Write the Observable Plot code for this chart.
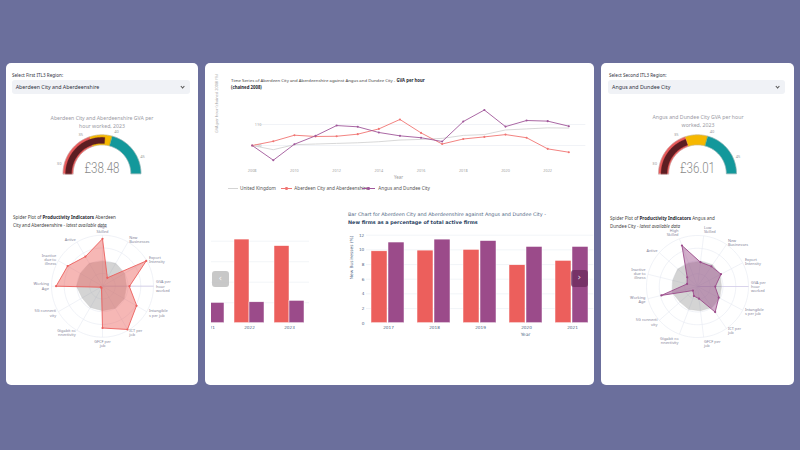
<!DOCTYPE html>
<html>
<head>
<meta charset="utf-8">
<script src="https://cdn.jsdelivr.net/npm/d3@7"></script>
<script src="https://cdn.jsdelivr.net/npm/@observablehq/plot@0.6"></script>
<style>
  html, body { margin: 0; padding: 0; }
  body { width: 800px; height: 450px; background: #6b6f9c; position: relative; overflow: hidden;
         font-family: "Noto Sans", "Open Sans", sans-serif; color: #31333f; }
  .card { position: absolute; background: #fff; border-radius: 5px; overflow: hidden; }
  .abs { position: absolute; white-space: nowrap; }
  .select { position: absolute; background: #f0f2f6; border-radius: 3px; font-size: 5.3px; line-height: 14px;
            padding-left: 4px; box-sizing: border-box; color: #31333f; }
  .chev { position: absolute; right: 6px; top: 4.5px; width: 2.2px; height: 2.2px;
          border-right: 0.8px solid #555; border-bottom: 0.8px solid #555; transform: rotate(45deg); }
  .lbl { font-size: 4.6px; color: #31333f; }
  .gtitle { font-size: 5.2px; line-height: 8px; color: #9a9aa4; text-align: center; transform: translateX(-50%); }
  .stitle { font-size: 4.5px; line-height: 8px; color: #444; }
  .stitle b { color: #262730; }
  .ctitle { font-size: 4.3px; line-height: 7px; color: #444; }
  .ctitle b { color: #262730; }
  .btitle { font-family: "DejaVu Sans", sans-serif; font-size: 4.9px; line-height: 7.5px; color: #506784; }
  .btitle b { color: #2a3f5f; }
  .leg { font-size: 4.7px; color: #555; line-height: 6px; }
  .swatch { position: absolute; height: 0; border-top: 1px solid; top: 3px; }
  .swatch i { position: absolute; left: 50%; top: -1.9px; width: 2.6px; height: 2.6px; margin-left: -1.3px; border-radius: 50%; }
  .arrow { position: absolute; border-radius: 3px; font-family: "DejaVu Sans", sans-serif; font-size: 9px;
           text-align: center; color: rgba(255,255,255,0.85); }
  .clip { position: absolute; overflow: hidden; }
  .clip svg { position: absolute; }
</style>
</head>
<body>
<div class="card" id="left" style="left:6px;top:63px;width:192px;height:322px"></div>
<div class="card" id="center" style="left:205px;top:63px;width:389px;height:322px"></div>
<div class="card" id="right" style="left:601px;top:63px;width:193px;height:322px"></div>

<script>
// ---------- data ----------
const regionA = "Aberdeen City and Aberdeenshire";
const regionB = "Angus and Dundee City";
const ukName = "United Kingdom";

// GVA per hour worked, chained to 2008 = 100
const years = [2008, 2009, 2010, 2011, 2012, 2013, 2014, 2015, 2016, 2017, 2018, 2019, 2020, 2021, 2022, 2023];
const ukGva = [100, 98.0, 100.4, 100.7, 101.0, 101.3, 101.8, 102.6, 102.9, 103.4, 104.8, 105.2, 107.4, 107.9, 108.4, 108.3];
const aberdeenGva = [100, 102.0, 104.9, 104.3, 104.4, 105.4, 107.9, 112.4, 106.0, 100.7, 103.1, 104.1, 105.2, 103.7, 98.4, 96.8];
const angusGva = [100, 93.0, 100.6, 104.6, 109.5, 108.9, 106.2, 104.6, 103.7, 101.9, 111.4, 116.9, 109.0, 111.9, 111.6, 109.2];
const gvaTicksX = [2008, 2010, 2012, 2014, 2016, 2018, 2020, 2022];
const gvaTicksY = [100, 110];

// New firms as a percentage of total active firms
const barYears = [2017, 2018, 2019, 2020, 2021];
const aberdeenNewFirms = [9.8, 9.9, 10.0, 7.9, 8.5];
const angusNewFirms = [11.0, 11.4, 11.2, 10.4, 10.4];
const barTicksY = [0, 2, 4, 6, 8, 10, 12];

// previous carousel slide (only its last years show)
const prevYears = [2021, 2022, 2023];
const aberdeenPrev = [null, 40.8, 37.6];
const angusPrev = [9.9, 10.2, 10.9];
const prevGrid = [10, 20, 30, 40];

// GVA per hour worked, 2023 (£)
const gaugeValueA = 38.48;
const gaugeValueB = 36.01;
const gaugeRange = [28.6, 47.4];
const gaugeBands = [28.6, 36.1, 39.6, 47.4];
const gaugeTicks = [30, 35, 40, 45];

// spider plots: indicator scores, 100 = outer ring
const spiderAxesA = ["GVA per hour worked", "Export Intensity", "New Businesses", "High Skilled", "Active",
  "Inactive due to illness", "Working Age", "5G connectivity", "Gigabit connectivity", "GFCF per job",
  "ICT per job", "Intangibles per job"];
const spiderLabelsA = ["GVA per\nhour\nworked", "Export\nIntensity", "New\nBusinesses", "High\nSkilled", "Active",
  "Inactive\ndue to\nillness", "Working\nAge", "5G connecti\nvity", "Gigabit co\nnnectivity", "GFCF per\njob",
  "ICT per\njob", "Intangible\ns per job"];
const aberdeenSpider = [53, 99, 19, 93, 67, 79, 91, 4, 4, 82, 98, 77];
const ukSpiderA = [47, 50, 52, 49, 52, 50, 51, 46, 48, 48, 50, 49];

const spiderAxesB = ["GVA per hour worked", "Export Intensity", "New Businesses", "Low Skilled", "High Skilled",
  "Active", "Inactive due to illness", "Working Age", "5G connectivity", "Gigabit connectivity", "GFCF per job",
  "ICT per job", "Intangibles per job"];
const spiderLabelsB = ["GVA per\nhour\nworked", "Export\nIntensity", "New\nBusinesses", "Low\nSkilled", "High\nSkilled",
  "Active", "Inactive\ndue to\nillness", "Working\nAge", "5G connecti\nvity", "Gigabit co\nnnectivity",
  "GFCF per\njob", "ICT per\njob", "Intangible\ns per job"];
const angusSpider = [35, 52, 48, 48, 86, 27, 21, 73, 12, 20, 24, 61, 47];
const ukSpiderB = [47, 50, 52, 50, 49, 52, 50, 51, 46, 48, 48, 50, 49];

// ---------- colours ----------
const red = "#ec5f5c", purple = "#9b4b8a", ukGrey = "#d4d4d4";
const bandColors = ["#e95a5a", "#f6b800", "#13989b"];
const barDark = "#5c1d22";

// ---------- helpers ----------
const svgStyle = (font = "'Noto Sans', sans-serif", size = "4.5px") =>
  ({background: "transparent", maxWidth: "none", overflow: "visible", fontFamily: font, fontSize: size});

function place(parentId, node, left, top, cls) {
  const wrap = document.createElement("div");
  wrap.className = cls || "abs";
  wrap.style.left = left + "px";
  wrap.style.top = top + "px";
  wrap.append(node);
  document.getElementById(parentId).append(wrap);
  return wrap;
}
function html(parentId, left, top, cls, inner, extra = "") {
  const d = document.createElement("div");
  d.className = cls;
  d.style.cssText = `left:${left}px;top:${top}px;` + extra;
  d.innerHTML = inner;
  document.getElementById(parentId).append(d);
  return d;
}

// semicircular gauge
function gaugePlot(value, cx) {
  const W = 192, H = 50, cy = 45.3, k = 39;
  const angle = d3.scaleLinear(gaugeRange, [Math.PI, 0]);
  const band = (v0, v1, r0, r1) => {
    const vs = d3.range(61).map(j => v0 + (v1 - v0) * j / 60);
    const outer = vs.map(v => ({x: r1 * Math.cos(angle(v)), y: r1 * Math.sin(angle(v))}));
    const inner = vs.slice().reverse().map(v => ({x: r0 * Math.cos(angle(v)), y: r0 * Math.sin(angle(v))}));
    return outer.concat(inner);
  };
  const stepMarks = bandColors.map((c, i) =>
    Plot.line(band(gaugeBands[i], gaugeBands[i + 1], 0.74, 1), {x: "x", y: "y", curve: "linear-closed", fill: c, stroke: c, strokeWidth: 0.3}));
  const svg = Plot.plot({
    width: W, height: H, margin: 0,
    x: {domain: [-cx / k, (W - cx) / k], axis: null},
    y: {domain: [-(H - cy) / k, cy / k], axis: null},
    style: svgStyle(),
    marks: [
      ...stepMarks,
      Plot.line(band(gaugeRange[0], gaugeRange[1], 0.74, 1), {x: "x", y: "y", curve: "linear-closed", fill: "none", stroke: "#b8b8b8", strokeWidth: 0.5}),
      Plot.line(band(gaugeRange[0], value, 0.78, 0.935), {x: "x", y: "y", curve: "linear-closed", fill: barDark, stroke: barDark, strokeWidth: 0.3}),
      Plot.text(gaugeTicks, {x: d => 1.13 * Math.cos(angle(d)), y: d => 1.13 * Math.sin(angle(d)), text: d => String(d), fontSize: 4, fill: "#9a9a9a"}),
      Plot.text([value], {x: () => 0, y: () => 0, text: d => "£" + d.toFixed(2), fontSize: 15.5, fontFamily: "Roboto, sans-serif",
        fontWeight: 300, lineAnchor: "bottom", dy: -1, fill: "#8a8a8a"})
    ]
  });
  // the number is set in a tall, narrow face
  d3.select(svg).selectAll("text").filter(function () { return this.textContent.startsWith("£"); })
    .attr("textLength", 35).attr("lengthAdjust", "spacingAndGlyphs");
  return svg;
}

// radar of productivity indicators against the UK reference
function spiderPlot(axes, labels, values, reference, color, cx, cy) {
  const W = 192, H = 125, k = 0.51;
  const n = axes.length;
  const theta = i => 2 * Math.PI * i / n;
  const polygon = vals => vals.map((v, i) => ({axis: axes[i], value: v, x: v * Math.cos(theta(i)), y: v * Math.sin(theta(i))}));
  const region = polygon(values);
  const ref = polygon(reference);
  const rings = [25, 50, 75, 100].flatMap(r => d3.range(0, 361, 4).map(a =>
    ({r, x: r * Math.cos(a * Math.PI / 180), y: r * Math.sin(a * Math.PI / 180)})));
  const spokes = axes.map((a, i) => ({axis: a, x: 100 * Math.cos(theta(i)), y: 100 * Math.sin(theta(i))}));
  const labelRows = labels.map((t, i) => {
    const c = Math.cos(theta(i)), s = Math.sin(theta(i));
    return {text: t, x: 105 * c, y: 105 * s,
      h: c > 0.05 ? "start" : c < -0.05 ? "end" : "middle",
      v: s > 0.9 ? "bottom" : s < -0.9 ? "top" : "middle"};
  });
  const labelMarks = [];
  for (const h of ["start", "middle", "end"]) for (const v of ["top", "middle", "bottom"]) {
    const rows = labelRows.filter(d => d.h === h && d.v === v);
    if (rows.length) labelMarks.push(Plot.text(rows, {x: "x", y: "y", text: "text", textAnchor: h, lineAnchor: v,
      fontSize: 3.9, lineHeight: 1.1, fill: "#85859a"}));
  }
  return Plot.plot({
    width: W, height: H, margin: 0,
    x: {domain: [-cx / k, (W - cx) / k], axis: null},
    y: {domain: [-(H - cy) / k, cy / k], axis: null},
    style: svgStyle(),
    marks: [
      Plot.line(rings, {x: "x", y: "y", z: "r", stroke: "#e6e9f1", strokeWidth: 0.6}),
      Plot.link(spokes, {x1: () => 0, y1: () => 0, x2: "x", y2: "y", stroke: "#e6e9f1", strokeWidth: 0.6}),
      Plot.link(spokes.slice(0, 1), {x1: () => 0, y1: () => 0, x2: "x", y2: "y", stroke: "#d3cbe9", strokeWidth: 0.8}),
      Plot.line(ref, {x: "x", y: "y", curve: "linear-closed", fill: "#8d8d8d", fillOpacity: 0.38, stroke: "#c4c4c4", strokeWidth: 0.4}),
      Plot.line(region, {x: "x", y: "y", curve: "linear-closed", fill: color, fillOpacity: 0.45, stroke: color, strokeWidth: 0.9}),
      Plot.dot(region, {x: "x", y: "y", r: 1.1, fill: color}),
      ...labelMarks
    ]
  });
}

// ---------- left card ----------
html("left", 6, 9, "abs lbl", "Select First ITL3 Region:");
html("left", 5.7, 17, "select", regionA + '<span class="chev"></span>', "width:178px;height:14px");
html("left", 96, 51, "abs gtitle", "Aberdeen City and Aberdeenshire GVA per<br>hour worked, 2023");
place("left", gaugePlot(gaugeValueA, 95.5), 0, 65);
html("left", 7, 150, "abs stitle", "Spider Plot of <b>Productivity Indicators</b> Aberdeen<br>City and Aberdeenshire - <i>latest available data</i>");
place("left", spiderPlot(spiderAxesA, spiderLabelsA, aberdeenSpider, ukSpiderA, red, 96, 57.7), 0, 165);

// ---------- right card ----------
html("right", 8, 9, "abs lbl", "Select Second ITL3 Region:");
html("right", 7, 17, "select", regionB + '<span class="chev"></span>', "width:177px;height:14px");
html("right", 97, 50, "abs gtitle", "Angus and Dundee City GVA per hour<br>worked, 2023");
place("right", gaugePlot(gaugeValueB, 96), 0, 65);
html("right", 9, 150.5, "abs stitle", "Spider Plot of <b>Productivity Indicators</b> Angus and<br>Dundee City - <i>latest available data</i>");
place("right", spiderPlot(spiderAxesB, spiderLabelsB, angusSpider, ukSpiderB, purple, 96, 58), 0, 165);

// ---------- centre card: time series ----------
html("center", 26, 14, "abs ctitle",
  `Time Series of ${regionA} against ${regionB} - <b>GVA per hour</b><br><b>(chained 2008)</b>`);

const gvaRows = years.flatMap((yr, i) => [
  {year: yr, series: ukName, value: ukGva[i]},
  {year: yr, series: regionA, value: aberdeenGva[i]},
  {year: yr, series: regionB, value: angusGva[i]}
]);
const lineChart = Plot.plot({
  width: 389, height: 92,
  marginLeft: 46.7, marginRight: 25.7, marginTop: 5.9, marginBottom: 23.1,
  x: {domain: [2008, 2023]},
  y: {domain: [91, 121], axis: null},
  color: {domain: [ukName, regionA, regionB], range: [ukGrey, "#f07573", "#a0579a"]},
  style: svgStyle(),
  marks: [
    Plot.ruleY(gvaTicksY, {stroke: "#eef0f5", strokeWidth: 0.8, insetLeft: 6, insetRight: -17}),
    Plot.axisX({ticks: gvaTicksX, tickSize: 0, tickPadding: 4.5, tickFormat: d => String(d), fontSize: 3.8, color: "#a3a3a3", label: null}),
    Plot.text(gvaTicksY, {y: d => d, text: d => String(d), frameAnchor: "left", dx: 2.6, fontSize: 3.8, fill: "#a3a3a3"}),
    Plot.text(["Year"], {frameAnchor: "bottom", text: d => d, dy: 15, dx: -12, fontSize: 4.4, fill: "#9a9a9a"}),
    Plot.text(["GVA per hour (chained 2008) (%)"], {frameAnchor: "left", text: d => d, rotate: -90, dx: -35.7, fontSize: 3.9, fill: "#a3a3a3"}),
    Plot.line(gvaRows, {x: "year", y: "value", z: "series", stroke: "series", strokeWidth: 0.9}),
    Plot.dot(gvaRows.filter(d => d.series !== ukName), {x: "year", y: "value", fill: "series", r: 1.05})
  ]
});
place("center", lineChart, 0, 32);

// legend
const legendItems = [
  {name: ukName, color: ukGrey, dot: false, x: 22.7, w: 10.6, tx: 35},
  {name: regionA, color: "#f07573", dot: true, x: 76, w: 11.3, tx: 89.3},
  {name: regionB, color: "#a0579a", dot: true, x: 156.7, w: 13.3, tx: 173.3}
];
for (const it of legendItems) {
  html("center", it.x, 122, "abs swatch", it.dot ? `<i style="background:${it.color}"></i>` : "",
    `width:${it.w}px;border-color:${it.color};top:125px`);
  html("center", it.tx, 122, "abs leg", it.name);
}

// ---------- centre card: bar charts ----------
html("center", 143, 148, "abs btitle",
  `Bar Chart for ${regionA} against ${regionB} -<br><b>New firms as a percentage of total active firms</b>`);

// previous slide, clipped by the carousel
const prevRows = prevYears.flatMap((yr, i) => [
  {year: yr, region: regionA, value: aberdeenPrev[i]},
  {year: yr, region: regionB, value: angusPrev[i]}
]).filter(d => d.value != null);
const prevBars = Plot.plot({
  width: 120, height: 115, marginLeft: 0, marginRight: 0, marginTop: 8.6, marginBottom: 20.3,
  fx: {domain: prevYears, paddingInner: 0.2, paddingOuter: 0.1, axis: "bottom", tickSize: 0, tickPadding: 2.5,
       tickFormat: d => String(d), label: null},
  x: {domain: [regionA, regionB], axis: null, padding: 0.03},
  y: {domain: [0, 42], axis: null},
  color: {domain: [regionA, regionB], range: [red, purple]},
  style: {...svgStyle("'DejaVu Sans', sans-serif", "4.2px"), color: "#506784"},
  marks: [
    Plot.barY(prevRows, {fx: "year", x: "region", y: "value", fill: "region", stroke: "white", strokeWidth: 0.5})
  ]
});
const prevGridPlot = Plot.plot({
  width: 120, height: 115, marginLeft: 0, marginRight: 0, marginTop: 8.6, marginBottom: 20.3,
  x: {domain: [0, 1], axis: null}, y: {domain: [0, 42], axis: null},
  style: svgStyle(),
  marks: [Plot.gridY(prevGrid, {stroke: "#edf0f5", strokeOpacity: 1, strokeWidth: 0.7})]
});
const clip = place("center", prevGridPlot, 6, 165, "clip");
clip.style.width = "114px"; clip.style.height = "115px";
prevGridPlot.style.left = "-21.7px"; prevGridPlot.style.top = "0px";
clip.append(prevBars);
prevBars.style.left = "-21.7px"; prevBars.style.top = "0px";

// current slide
const firmRows = barYears.flatMap((yr, i) => [
  {year: yr, region: regionA, value: aberdeenNewFirms[i]},
  {year: yr, region: regionB, value: angusNewFirms[i]}
]);
const barFrame = {width: 254, height: 115, marginLeft: 26, marginRight: 0.6, marginTop: 6.7, marginBottom: 20.3};
const barAxes = Plot.plot({
  ...barFrame,
  x: {domain: [0, 1], axis: null}, y: {domain: [0, 12], axis: null},
  style: svgStyle("'DejaVu Sans', sans-serif", "4.2px"),
  marks: [
    Plot.gridY(barTicksY.filter(d => d > 0), {stroke: "#edf0f5", strokeOpacity: 1, strokeWidth: 0.7}),
    Plot.axisY({ticks: barTicksY, tickSize: 0, tickPadding: 2.2, fontSize: 4.2, color: "#506784", label: null}),
    Plot.text(["New Businesses (%)"], {frameAnchor: "left", text: d => d, rotate: -90, dx: -15.3, fontSize: 4.3, fill: "#506784"}),
    Plot.text(["Year"], {frameAnchor: "bottom", text: d => d, dy: 12.3, dx: 45.3, fontSize: 4.6, fill: "#506784"})
  ]
});
const barChart = Plot.plot({
  ...barFrame,
  fx: {domain: barYears, paddingInner: 0.22, paddingOuter: 0.0815, axis: "bottom", tickSize: 0, tickPadding: 2.5,
       tickFormat: d => String(d), label: null},
  x: {domain: [regionA, regionB], axis: null, padding: 0.03},
  y: {domain: [0, 12], axis: null},
  color: {domain: [regionA, regionB], range: [red, purple]},
  style: {...svgStyle("'DejaVu Sans', sans-serif", "4.2px"), color: "#506784"},
  marks: [
    Plot.barY(firmRows, {fx: "year", x: "region", y: "value", fill: "region", stroke: "white", strokeWidth: 0.5})
  ]
});
place("center", barAxes, 135, 165);
place("center", barChart, 135, 165);

// carousel controls
html("center", 6.7, 208, "arrow", "‹", "width:17.3px;height:15.7px;line-height:14.5px;background:rgba(190,190,190,0.85)");
html("center", 365.7, 207, "arrow", "›", "width:17px;height:17px;line-height:15.5px;background:rgba(105,40,90,0.72)");
</script>
</body>
</html>
